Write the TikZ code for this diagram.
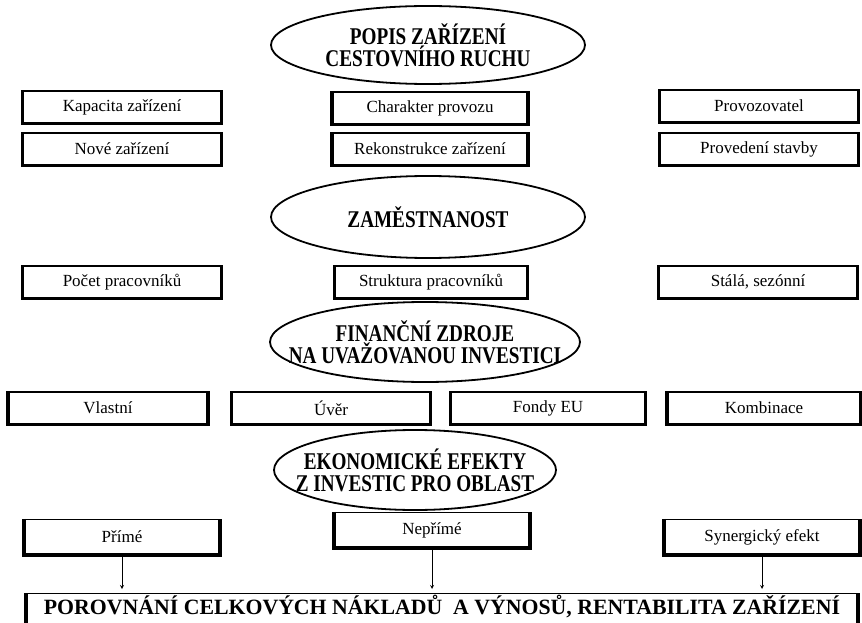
\documentclass[tikz,border=0pt]{standalone}
\usepackage{fontspec}
\setmainfont{Liberation Serif}
\newfontfamily\headfont{Liberation Serif}[FakeStretch=0.8]
\usetikzlibrary{shapes.geometric}

\begin{document}
\begin{tikzpicture}[x=1pt, y=-1pt,
    topic/.style={draw, ellipse, line width=1.8pt, inner sep=-30pt, align=center,
        font=\headfont\bfseries\fontsize{24}{22}\selectfont},
    item/.style={draw, line width=1.2pt, inner sep=0pt, minimum height=32pt,
        font=\fontsize{17}{20}\selectfont}]

    \clip (0,0) rectangle (862,623);

    % Popis zarizeni cestovniho ruchu
    \node[topic, minimum width=314pt, minimum height=78pt] (popis) at (428,45) {POPIS ZAŘÍZENÍ\\CESTOVNÍHO RUCHU};
    \node[item, minimum width=198pt] (kapacita) at (122,107) {Kapacita zařízení};
    \node[item, minimum width=195pt] (charakter) at (430,108) {Charakter provozu};
    \node[item, minimum width=198pt] (provozovatel) at (759,106) {Provozovatel};
    \node[item, minimum width=198pt] (nove) at (122,149) {Nové zařízení};
    \node[item, minimum width=195pt] (rekonstrukce) at (430,149) {Rekonstrukce zařízení};
    \node[item, minimum width=198pt] (provedeni) at (759,149) {Provedení stavby};

    % Zamestnanost
    \node[topic, minimum width=314pt, minimum height=82pt] (zamestnanost) at (428,217) {ZAMĚSTNANOST};
    \node[item, minimum width=198pt] (pocet) at (122,282) {Počet pracovníků};
    \node[item, minimum width=192pt] (struktura) at (431,282) {Struktura pracovníků};
    \node[item, minimum width=198pt] (stala) at (758,282) {Stálá, sezónní};

    % Financni zdroje
    \node[topic, minimum width=310pt, minimum height=80pt] (zdroje) at (425,342) {FINANČNÍ ZDROJE\\NA UVAŽOVANOU INVESTICI};
    \node[item, minimum width=199pt] (vlastni) at (108,408) {Vlastní};
    \node[item, minimum width=198pt] (uver) at (331,408) {Úvěr};
    \node[item, minimum width=194pt] (fondy) at (548,408) {Fondy EU};
    \node[item, minimum width=193pt] (kombinace) at (764,408) {Kombinace};

    % Ekonomicke efekty
    \node[topic, minimum width=282pt, minimum height=80pt] (efekty) at (415,470) {EKONOMICKÉ EFEKTY\\Z INVESTIC PRO OBLAST};
    \node[item, minimum width=195pt, minimum height=35pt] (prime) at (122,537) {Přímé};
    \node[item, minimum width=195pt, minimum height=35pt] (neprime) at (432,530) {Nepřímé};
    \node[item, minimum width=195pt, minimum height=35pt] (synergie) at (762,537) {Synergický efekt};

    % Porovnani (cut off at the bottom)
    \node[draw, line width=1.2pt, anchor=north, inner xsep=0pt, inner ysep=0pt,
        minimum width=831pt, text height=21pt, text depth=20pt,
        font=\bfseries\fontsize{21.8}{24}\selectfont] (porovnani) at (442,593)
        {POROVNÁNÍ CELKOVÝCH NÁKLADŮ\ \ A VÝNOSŮ, RENTABILITA ZAŘÍZENÍ};

    % Thick frame on the sides and bottom
    \foreach \b in {kapacita, charakter, provozovatel, nove, rekonstrukce, provedeni,
                    pocet, struktura, stala, vlastni, uver, fondy, kombinace,
                    prime, neprime, synergie, porovnani}
        \draw[line width=3.5pt] (\b.north west) |- (\b.south east) -- (\b.north east);

    % Arrows to the comparison
    \foreach \b in {prime, neprime, synergie}
        \draw[-stealth, line width=0.8pt, shorten >=4pt] (\b.south) -- (\b.south |- porovnani.north);

\end{tikzpicture}
\end{document}
